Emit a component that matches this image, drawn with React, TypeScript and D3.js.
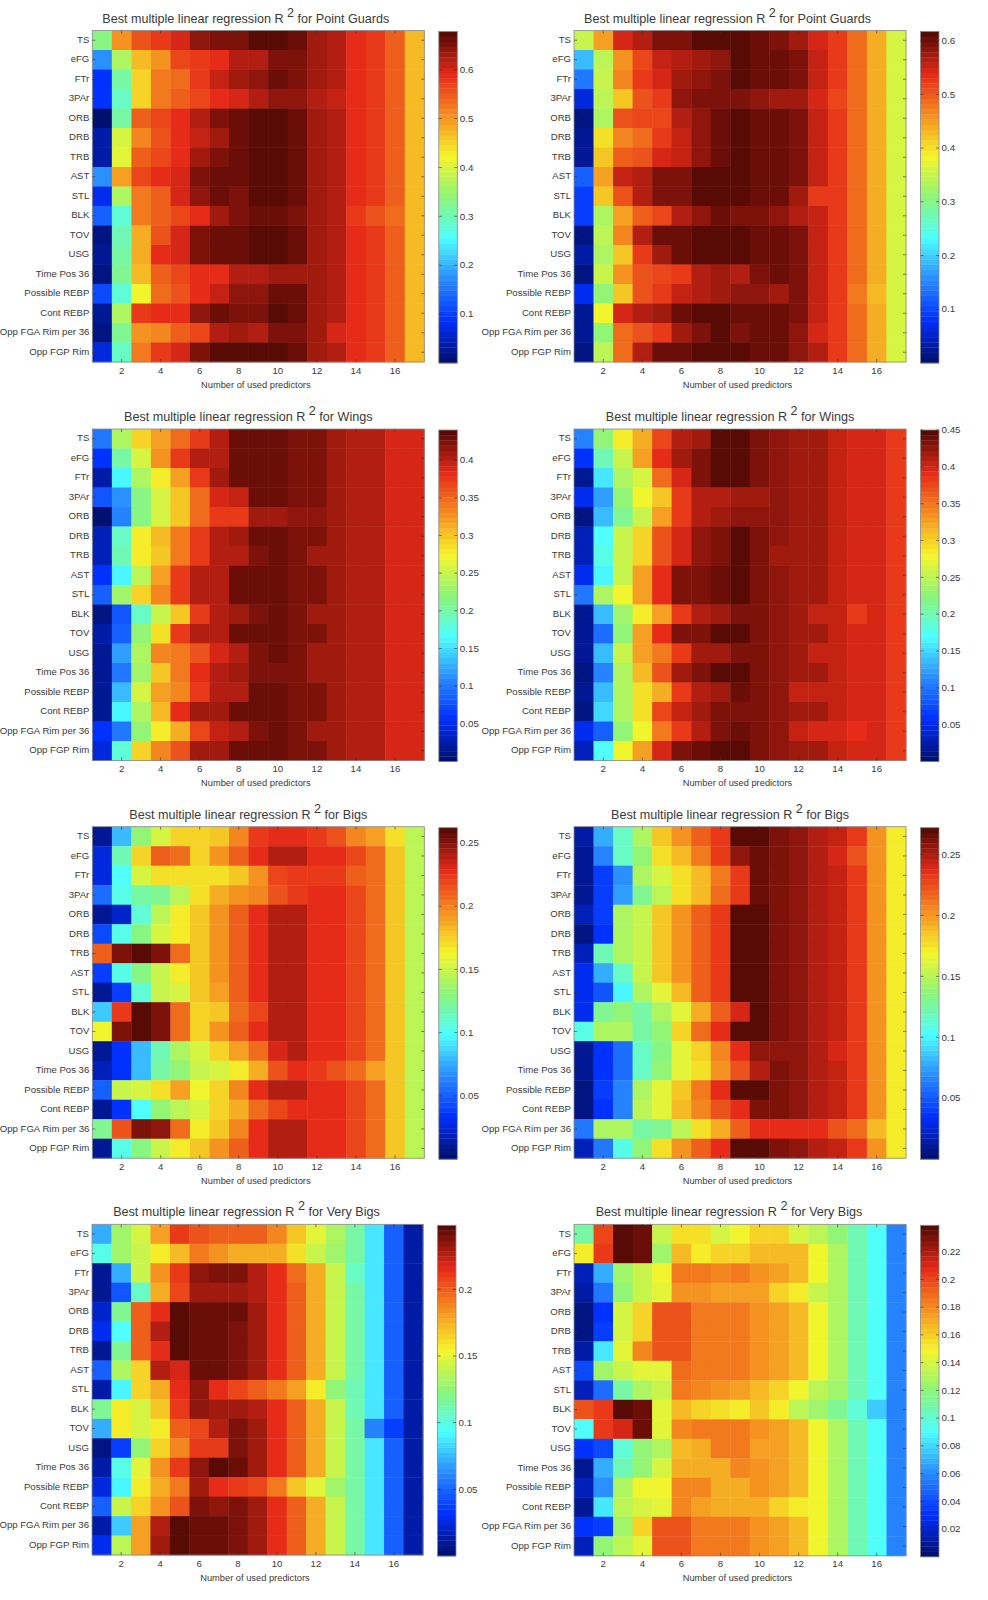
import React from 'react';
import * as d3 from 'd3';

const predictors = ['TS', 'eFG', 'FTr', '3PAr', 'ORB', 'DRB', 'TRB', 'AST', 'STL', 'BLK', 'TOV', 'USG', 'Time Pos 36', 'Possible REBP', 'Cont REBP', 'Opp FGA Rim per 36', 'Opp FGP Rim'];
const counts = d3.range(1, 18);
const xTicks = [2, 4, 6, 8, 10, 12, 14, 16];

// R^2 per predictor row, per number of used predictors (columns)
const pgLeft = [
  [.33,.50,.56,.58,.60,.64,.655,.655,.675,.675,.66,.635,.62,.59,.58,.55,.47],
  [.17,.37,.47,.50,.565,.58,.59,.625,.625,.65,.655,.635,.62,.59,.58,.55,.47],
  [.09,.31,.45,.52,.53,.58,.605,.63,.64,.66,.655,.635,.62,.59,.58,.55,.47],
  [.09,.29,.45,.52,.55,.57,.59,.60,.625,.64,.64,.625,.605,.59,.575,.55,.47],
  [.01,.31,.55,.57,.585,.615,.655,.665,.675,.675,.665,.635,.62,.59,.58,.55,.47],
  [.04,.395,.51,.555,.585,.61,.635,.665,.675,.675,.665,.635,.62,.59,.58,.55,.47],
  [.04,.41,.55,.57,.59,.63,.65,.665,.675,.675,.665,.635,.62,.59,.58,.55,.47],
  [.17,.49,.57,.585,.60,.65,.665,.665,.675,.675,.665,.635,.62,.59,.58,.55,.47],
  [.08,.37,.525,.55,.60,.645,.665,.655,.675,.675,.665,.635,.62,.59,.58,.55,.47],
  [.13,.28,.52,.55,.565,.585,.63,.655,.665,.665,.655,.635,.62,.575,.56,.53,.47],
  [.015,.30,.48,.555,.60,.65,.665,.665,.675,.675,.665,.635,.62,.59,.58,.55,.47],
  [.03,.31,.48,.585,.60,.65,.665,.665,.675,.675,.665,.635,.62,.59,.58,.55,.47],
  [.015,.325,.47,.55,.565,.585,.59,.62,.62,.635,.635,.635,.62,.59,.58,.55,.47],
  [.11,.28,.42,.53,.56,.585,.605,.64,.64,.665,.665,.635,.62,.59,.58,.55,.47],
  [.025,.37,.575,.585,.585,.645,.665,.655,.655,.675,.665,.635,.62,.59,.58,.55,.47],
  [.02,.32,.50,.51,.55,.57,.62,.63,.62,.655,.655,.635,.60,.59,.58,.55,.47],
  [.07,.29,.525,.575,.60,.655,.67,.67,.675,.675,.665,.635,.62,.59,.58,.55,.47],
];
const pgRight = [
  [.35,.45,.545,.565,.595,.595,.61,.61,.61,.60,.595,.57,.545,.53,.49,.44,.365],
  [.185,.34,.46,.52,.55,.565,.575,.585,.61,.60,.60,.59,.555,.53,.49,.44,.365],
  [.14,.35,.47,.525,.54,.57,.585,.59,.61,.60,.60,.59,.555,.53,.49,.44,.365],
  [.065,.34,.42,.51,.525,.58,.59,.59,.59,.58,.575,.575,.54,.515,.49,.44,.365],
  [.015,.33,.51,.52,.52,.565,.58,.60,.61,.60,.60,.59,.555,.53,.49,.44,.365],
  [.02,.40,.47,.49,.525,.55,.58,.60,.61,.60,.60,.59,.555,.53,.49,.44,.365],
  [.02,.415,.50,.51,.54,.55,.58,.60,.61,.60,.60,.59,.555,.53,.49,.44,.365],
  [.12,.45,.55,.565,.595,.595,.61,.61,.61,.60,.60,.59,.555,.53,.49,.44,.365],
  [.09,.42,.51,.56,.595,.595,.61,.61,.61,.60,.60,.575,.53,.53,.49,.44,.365],
  [.09,.33,.45,.50,.52,.56,.585,.60,.59,.59,.58,.565,.55,.53,.49,.44,.365],
  [.01,.34,.47,.56,.60,.60,.61,.61,.61,.60,.60,.59,.555,.53,.49,.44,.365],
  [.03,.33,.42,.525,.57,.60,.61,.61,.61,.60,.60,.59,.555,.53,.49,.44,.365],
  [.015,.355,.455,.51,.52,.525,.565,.575,.56,.59,.60,.59,.555,.53,.49,.44,.365],
  [.07,.31,.42,.51,.525,.55,.56,.575,.585,.585,.575,.59,.555,.53,.48,.43,.365],
  [.025,.38,.54,.56,.575,.60,.61,.61,.60,.60,.60,.59,.555,.53,.49,.44,.365],
  [.025,.31,.49,.51,.53,.575,.595,.61,.59,.60,.60,.58,.54,.53,.49,.44,.365],
  [.015,.34,.49,.56,.60,.60,.61,.61,.61,.60,.60,.585,.56,.525,.49,.44,.365],
];
const wingsLeft = [
  [.10,.235,.295,.32,.35,.375,.40,.43,.43,.43,.42,.42,.41,.405,.40,.39,.385],
  [.06,.20,.26,.325,.375,.405,.405,.43,.43,.43,.42,.42,.41,.405,.40,.39,.385],
  [.025,.16,.24,.28,.32,.375,.41,.43,.43,.43,.42,.42,.41,.405,.40,.39,.385],
  [.08,.11,.215,.26,.30,.35,.385,.395,.43,.43,.42,.42,.41,.405,.40,.39,.385],
  [.005,.105,.215,.255,.30,.345,.375,.375,.41,.41,.415,.415,.41,.405,.40,.39,.385],
  [.03,.19,.275,.305,.34,.375,.40,.41,.43,.43,.42,.42,.41,.405,.40,.39,.385],
  [.03,.195,.275,.30,.34,.375,.40,.40,.42,.43,.42,.41,.41,.405,.40,.39,.385],
  [.055,.16,.245,.32,.375,.405,.405,.43,.43,.43,.42,.42,.41,.405,.40,.39,.385],
  [.085,.23,.295,.33,.375,.405,.405,.43,.43,.43,.42,.42,.41,.405,.40,.39,.385],
  [.01,.08,.19,.25,.30,.375,.40,.41,.425,.43,.42,.41,.41,.405,.40,.39,.385],
  [.025,.085,.225,.285,.375,.405,.405,.43,.43,.43,.42,.42,.41,.405,.40,.39,.385],
  [.015,.12,.24,.33,.34,.36,.39,.405,.425,.43,.42,.41,.41,.405,.40,.39,.385],
  [.015,.10,.23,.30,.34,.38,.40,.41,.42,.42,.42,.41,.41,.405,.40,.39,.385],
  [.02,.135,.26,.32,.335,.375,.405,.405,.43,.43,.42,.42,.41,.405,.40,.39,.385],
  [.02,.16,.24,.305,.38,.41,.41,.43,.43,.43,.42,.42,.41,.405,.40,.39,.385],
  [.06,.10,.225,.275,.315,.365,.395,.40,.425,.43,.42,.41,.41,.405,.40,.39,.385],
  [.045,.18,.295,.33,.36,.41,.41,.43,.43,.43,.42,.42,.41,.405,.40,.39,.385],
];
const wingsRight = [
  [.11,.23,.285,.32,.375,.41,.415,.445,.445,.43,.425,.415,.415,.405,.40,.394,.383],
  [.06,.20,.26,.33,.39,.42,.43,.445,.445,.43,.425,.415,.415,.405,.40,.394,.383],
  [.015,.155,.24,.265,.355,.395,.43,.445,.445,.43,.425,.415,.415,.405,.40,.394,.383],
  [.055,.125,.23,.28,.305,.38,.41,.41,.42,.42,.425,.415,.415,.405,.40,.394,.383],
  [.01,.135,.215,.255,.33,.38,.41,.415,.425,.425,.425,.415,.415,.405,.40,.394,.383],
  [.03,.17,.26,.30,.37,.395,.425,.43,.445,.43,.425,.415,.415,.405,.40,.394,.383],
  [.03,.18,.26,.30,.37,.395,.425,.43,.445,.43,.415,.415,.415,.405,.40,.394,.383],
  [.055,.165,.26,.325,.39,.43,.43,.44,.445,.43,.425,.415,.415,.405,.40,.394,.383],
  [.10,.24,.28,.325,.39,.43,.43,.44,.445,.43,.425,.415,.415,.405,.40,.394,.383],
  [.015,.14,.235,.285,.33,.38,.41,.42,.435,.43,.425,.415,.405,.405,.385,.394,.383],
  [.015,.095,.23,.325,.39,.43,.435,.445,.445,.43,.425,.415,.415,.405,.40,.394,.383],
  [.015,.135,.255,.325,.345,.38,.415,.415,.43,.43,.425,.415,.405,.405,.40,.394,.383],
  [.01,.11,.24,.31,.37,.42,.435,.445,.445,.43,.425,.415,.415,.405,.40,.394,.383],
  [.02,.14,.245,.295,.32,.38,.41,.42,.44,.43,.425,.405,.405,.405,.40,.394,.383],
  [.01,.15,.24,.295,.375,.405,.42,.43,.43,.43,.425,.415,.415,.405,.40,.394,.383],
  [.05,.09,.23,.28,.345,.385,.41,.43,.44,.43,.425,.405,.40,.40,.388,.394,.383],
  [.035,.17,.28,.325,.395,.435,.44,.45,.45,.43,.425,.415,.415,.405,.40,.394,.383],
];
const bigsLeft = [
  [.012,.08,.135,.155,.172,.172,.18,.198,.222,.228,.228,.222,.215,.20,.19,.17,.147],
  [.025,.115,.175,.21,.205,.175,.195,.21,.228,.238,.238,.228,.228,.22,.205,.18,.147],
  [.025,.10,.155,.168,.168,.168,.17,.18,.195,.218,.225,.225,.222,.21,.205,.18,.147],
  [.055,.105,.12,.125,.145,.17,.185,.195,.20,.215,.225,.228,.228,.22,.205,.18,.147],
  [.012,.022,.11,.145,.165,.18,.195,.212,.228,.238,.238,.228,.228,.22,.205,.18,.147],
  [.045,.105,.13,.155,.165,.18,.195,.212,.228,.238,.238,.228,.228,.22,.205,.18,.147],
  [.21,.25,.262,.25,.205,.18,.195,.212,.228,.238,.238,.228,.228,.22,.205,.18,.147],
  [.04,.105,.13,.15,.165,.18,.195,.212,.228,.238,.238,.228,.228,.22,.205,.18,.147],
  [.01,.04,.11,.15,.155,.18,.19,.212,.228,.238,.238,.228,.228,.22,.205,.18,.147],
  [.085,.225,.26,.25,.205,.172,.18,.205,.218,.238,.238,.228,.228,.22,.205,.18,.147],
  [.16,.25,.26,.25,.205,.172,.195,.212,.228,.238,.238,.228,.228,.22,.205,.18,.147],
  [.01,.035,.08,.118,.14,.155,.175,.19,.205,.23,.24,.228,.228,.22,.205,.18,.147],
  [.02,.035,.08,.12,.135,.15,.155,.165,.185,.213,.228,.225,.215,.205,.19,.18,.147],
  [.05,.148,.155,.168,.19,.16,.175,.20,.228,.238,.238,.228,.228,.22,.205,.18,.147],
  [.01,.035,.10,.135,.145,.155,.175,.185,.205,.22,.228,.228,.228,.22,.205,.18,.147],
  [.125,.215,.252,.248,.205,.165,.18,.20,.228,.238,.238,.228,.228,.22,.205,.18,.147],
  [.01,.105,.13,.15,.165,.18,.195,.212,.228,.238,.238,.228,.228,.22,.205,.18,.147],
];
const bigsRight = [
  [.015,.08,.115,.145,.185,.20,.22,.232,.268,.268,.262,.258,.25,.245,.232,.20,.172],
  [.01,.065,.115,.14,.178,.19,.21,.23,.258,.265,.262,.258,.25,.24,.225,.20,.172],
  [.01,.04,.07,.145,.16,.175,.19,.212,.23,.265,.262,.258,.25,.245,.232,.20,.172],
  [.01,.04,.075,.13,.15,.175,.19,.215,.232,.265,.262,.258,.25,.245,.232,.20,.172],
  [.02,.04,.145,.155,.185,.20,.22,.232,.27,.27,.262,.258,.25,.245,.232,.20,.172],
  [.008,.035,.145,.155,.185,.20,.22,.232,.27,.27,.262,.258,.25,.245,.232,.20,.172],
  [.018,.12,.145,.155,.185,.20,.22,.232,.27,.27,.262,.258,.25,.245,.232,.20,.172],
  [.03,.08,.115,.155,.185,.20,.22,.232,.27,.27,.262,.258,.25,.245,.232,.20,.172],
  [.03,.05,.10,.145,.165,.19,.22,.232,.27,.27,.262,.258,.25,.245,.232,.20,.172],
  [.03,.13,.14,.125,.145,.165,.195,.22,.24,.27,.262,.258,.25,.245,.232,.20,.172],
  [.11,.145,.145,.125,.14,.18,.215,.235,.27,.27,.262,.258,.25,.245,.232,.20,.172],
  [.012,.035,.058,.115,.135,.165,.18,.205,.235,.255,.258,.255,.25,.24,.232,.20,.172],
  [.012,.035,.058,.115,.14,.165,.175,.20,.225,.25,.262,.258,.25,.245,.232,.20,.172],
  [.008,.04,.065,.145,.165,.185,.21,.235,.27,.27,.262,.258,.25,.245,.232,.20,.172],
  [.008,.035,.065,.15,.165,.19,.205,.222,.235,.26,.262,.258,.25,.245,.232,.20,.172],
  [.06,.145,.145,.125,.13,.15,.175,.195,.218,.235,.235,.235,.235,.225,.215,.19,.172],
  [.018,.06,.11,.14,.175,.20,.22,.235,.27,.27,.262,.258,.25,.245,.232,.20,.172],
];
const veryBigsLeft = [
  [.07,.13,.145,.18,.21,.205,.20,.20,.20,.188,.168,.148,.135,.115,.088,.05,.012],
  [.10,.13,.14,.155,.172,.19,.185,.178,.178,.178,.16,.14,.128,.115,.088,.05,.012],
  [.01,.07,.14,.185,.21,.235,.238,.238,.225,.215,.195,.175,.14,.108,.088,.05,.012],
  [.01,.045,.105,.175,.208,.232,.232,.232,.228,.215,.20,.175,.14,.115,.088,.05,.012],
  [.02,.12,.20,.215,.245,.242,.242,.242,.232,.215,.20,.175,.14,.115,.088,.05,.012],
  [.03,.095,.20,.228,.245,.242,.242,.24,.232,.215,.20,.175,.14,.115,.088,.05,.012],
  [.01,.12,.20,.215,.245,.242,.242,.24,.232,.215,.20,.175,.14,.115,.088,.05,.012],
  [.05,.135,.165,.228,.218,.242,.242,.24,.232,.215,.20,.175,.14,.115,.088,.05,.012],
  [.015,.09,.165,.175,.215,.235,.215,.208,.20,.19,.18,.158,.125,.11,.088,.05,.012],
  [.12,.158,.145,.17,.21,.235,.232,.232,.228,.215,.20,.175,.14,.11,.088,.05,.012],
  [.07,.155,.145,.155,.20,.208,.228,.24,.232,.215,.20,.175,.14,.115,.06,.035,.012],
  [.005,.035,.125,.165,.188,.213,.213,.24,.232,.215,.20,.175,.14,.115,.088,.05,.012],
  [.015,.10,.15,.185,.213,.235,.245,.243,.232,.215,.20,.175,.14,.115,.088,.05,.012],
  [.025,.09,.155,.175,.19,.23,.215,.213,.208,.19,.168,.15,.13,.115,.088,.05,.012],
  [.05,.14,.165,.185,.202,.238,.235,.24,.232,.215,.20,.175,.14,.115,.088,.05,.012],
  [.015,.08,.182,.228,.246,.243,.243,.24,.232,.215,.20,.175,.14,.115,.088,.05,.012],
  [.03,.138,.182,.23,.246,.243,.243,.24,.232,.215,.20,.175,.14,.115,.088,.05,.012],
];
const veryBigsRight = [
  [.11,.20,.236,.232,.135,.155,.155,.14,.147,.16,.16,.14,.132,.12,.105,.09,.057],
  [.15,.205,.236,.232,.125,.165,.152,.158,.16,.165,.165,.167,.148,.128,.105,.09,.057],
  [.018,.07,.125,.138,.148,.185,.185,.18,.185,.178,.172,.168,.148,.128,.105,.09,.057],
  [.012,.055,.12,.135,.142,.178,.178,.175,.175,.172,.16,.152,.136,.128,.105,.09,.057],
  [.006,.03,.14,.16,.195,.195,.185,.185,.185,.178,.172,.168,.148,.128,.105,.09,.057],
  [.006,.035,.14,.16,.195,.195,.185,.185,.185,.178,.172,.168,.148,.128,.105,.09,.057],
  [.012,.085,.145,.18,.195,.195,.185,.185,.185,.178,.172,.168,.148,.128,.105,.09,.057],
  [.04,.125,.135,.145,.145,.19,.185,.185,.185,.178,.172,.168,.148,.128,.105,.09,.057],
  [.015,.05,.11,.13,.135,.185,.18,.178,.172,.165,.16,.147,.132,.125,.105,.09,.057],
  [.195,.205,.236,.232,.142,.168,.16,.155,.15,.163,.152,.132,.125,.115,.10,.075,.057],
  [.09,.205,.21,.232,.142,.18,.185,.185,.185,.178,.172,.168,.148,.128,.105,.09,.057],
  [.03,.04,.10,.12,.13,.168,.17,.185,.185,.172,.172,.168,.148,.128,.105,.09,.057],
  [.008,.07,.105,.12,.14,.17,.17,.17,.18,.178,.172,.168,.148,.128,.105,.09,.057],
  [.018,.06,.13,.148,.148,.18,.18,.17,.17,.178,.172,.168,.148,.128,.105,.09,.057],
  [.01,.085,.132,.14,.145,.18,.175,.17,.17,.17,.16,.15,.148,.128,.105,.09,.057],
  [.03,.035,.125,.158,.195,.195,.185,.185,.185,.178,.172,.168,.148,.128,.105,.09,.057],
  [.018,.12,.132,.145,.195,.195,.185,.185,.185,.178,.172,.168,.148,.128,.105,.09,.057],
];

const groups = ['Point Guards', 'Wings', 'Bigs', 'Very Bigs'];
const matrices = [pgLeft, pgRight, wingsLeft, wingsRight, bigsLeft, bigsRight, veryBigsLeft, veryBigsRight];
const colorMax = [.678, .617, .44, .45, .262, .272, .248, .239];
const colorTicks = [
  ['0.1', '0.2', '0.3', '0.4', '0.5', '0.6'],
  ['0.1', '0.2', '0.3', '0.4', '0.5', '0.6'],
  ['0.05', '0.1', '0.15', '0.2', '0.25', '0.3', '0.35', '0.4'],
  ['0.05', '0.1', '0.15', '0.2', '0.25', '0.3', '0.35', '0.4', '0.45'],
  ['0.05', '0.1', '0.15', '0.2', '0.25'],
  ['0.05', '0.1', '0.15', '0.2', '0.25'],
  ['0.05', '0.1', '0.15', '0.2'],
  ['0.02', '0.04', '0.06', '0.08', '0.1', '0.12', '0.14', '0.16', '0.18', '0.2', '0.22'],
];

// jet, with the washed-out look of the screenshot
const jet = d3.scaleLinear<string>()
  .domain([0, .125, .25, .375, .5, .625, .75, .875, 1])
  .range(['#001070', '#0030ff', '#2a8cff', '#4dffff', '#8cf57a', '#f5f52a', '#f59020', '#e62a18', '#580a04']);
const palette = d3.range(64).map(i => jet(i / 63));

const font = '"Liberation Sans", Arial, sans-serif';
const textColor = '#3a3a3a';
const frame = '#8a8a8a';
const rowTops = [30.5, 429, 826.7, 1224.3];
const colLefts = [92.3, 574];
const titleShift = [-12.5, -10, -10, -11];

const Heatmap = ({ index }: { index: number }) => {
  const col = index % 2;
  const row = Math.floor(index / 2);
  const left = index === 6 ? 92 : colLefts[col];
  const top = rowTops[row];
  // the bottom left panel came out a touch smaller in the original
  const plotW = index === 6 ? 331 : 332;
  const plotH = index === 6 ? 330.7 : 331.5;
  const right = left + plotW;
  const bottom = top + plotH;
  const values = matrices[index];
  const max = colorMax[index];

  const x = d3.scaleBand<number>().domain(counts).range([left, right]);
  const y = d3.scaleBand<string>().domain(predictors).range([top, bottom]);
  const color = d3.scaleQuantize<string>().domain([0, max]).range(palette);

  const barLeft = right + 14.5;
  const barRight = barLeft + 18.5;
  const barY = d3.scaleLinear().domain([0, max]).range([bottom + 1, top + 1]);
  const barH = (bottom - top) / 64;

  return (
    <g fontFamily={font} fill={textColor}>
      {values.map((rowValues, r) =>
        rowValues.map((v, c) => (
          <rect key={`${r}-${c}`} x={x(counts[c])} y={y(predictors[r])} width={x.bandwidth() + .4} height={y.bandwidth() + .4} fill={color(v)} />
        ))
      )}
      <rect x={left} y={top} width={plotW} height={plotH} fill="none" stroke={frame} strokeWidth={.8} />

      {predictors.map(p => {
        const py = y(p)! + y.bandwidth() / 2;
        return (
          <g key={p}>
            <path d={`M${left},${py}h3M${right},${py}h-3`} stroke="#333" strokeWidth={.6} />
            <text x={left - 3} y={py + 2.6} textAnchor="end" fontSize={9.6}>{p}</text>
          </g>
        );
      })}
      {xTicks.map(t => {
        const px = x(t)! + x.bandwidth() / 2;
        return (
          <g key={t}>
            <path d={`M${px},${bottom}v-3M${px},${top}v3`} stroke="#333" strokeWidth={.6} />
            <text x={px} y={bottom + 11.5} textAnchor="middle" fontSize={9.6}>{t}</text>
          </g>
        );
      })}
      <text x={left + plotW / 2 - 2.5} y={bottom + 25.6} textAnchor="middle" fontSize={9.3}>Number of used predictors</text>
      <text x={left + plotW / 2 + titleShift[row]} y={top - 8} textAnchor="middle" fontSize={12.6}>
        Best multiple linear regression R <tspan dy={-6}>2</tspan><tspan dy={6}> for {groups[row]}</tspan>
      </text>

      {palette.map((c, i) => (
        <rect key={c + i} x={barLeft} y={bottom + 1 - (i + 1) * barH} width={barRight - barLeft} height={barH + .3} fill={c} />
      ))}
      <rect x={barLeft} y={top + 1} width={barRight - barLeft} height={plotH} fill="none" stroke={frame} strokeWidth={.8} />
      {colorTicks[index].map(t => {
        const py = barY(+t);
        return (
          <g key={t}>
            <path d={`M${barLeft},${py}h3M${barRight},${py}h-3`} stroke="#333" strokeWidth={.6} />
            <text x={barRight + 2.5} y={py + 3.2} fontSize={9.8}>{t}</text>
          </g>
        );
      })}
    </g>
  );
};

export default function App() {
  return (
    <svg width={988} height={1600} style={{ position: 'absolute', left: 0, top: 0, background: '#fff' }}>
      {matrices.map((_, i) => <Heatmap key={i} index={i} />)}
    </svg>
  );
}
